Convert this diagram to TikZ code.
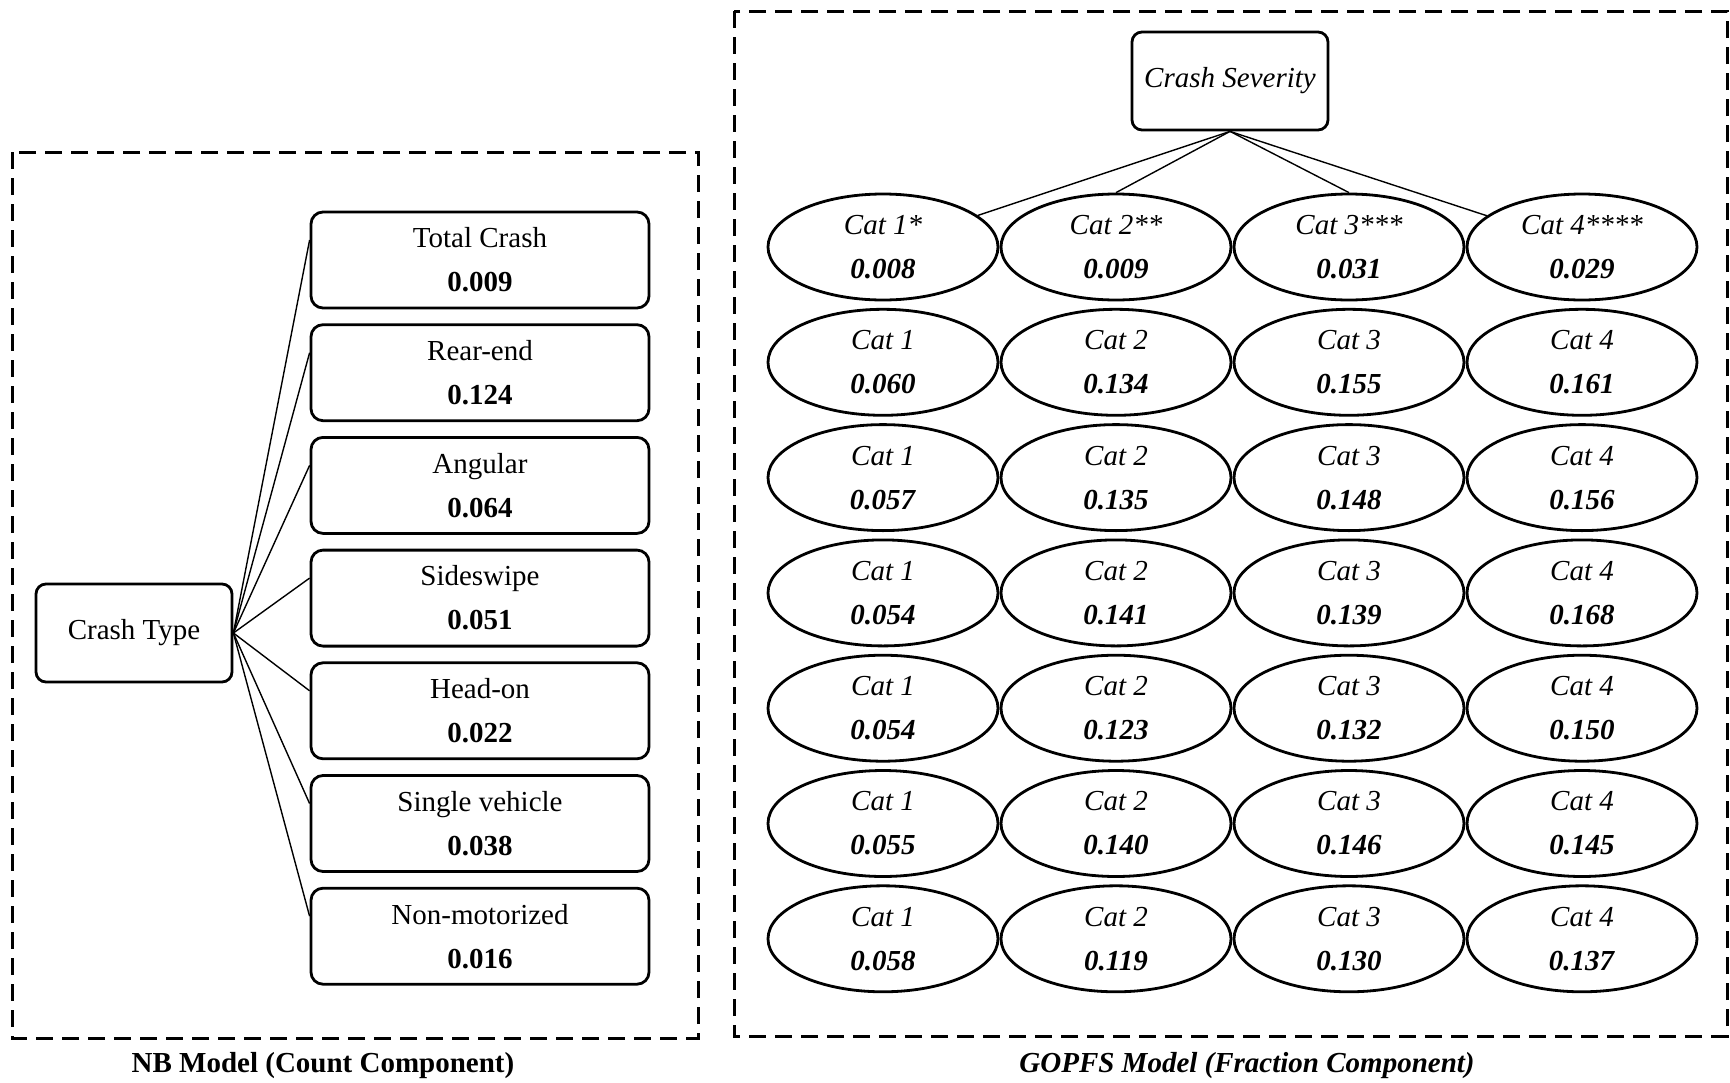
\documentclass[tikz,border=0pt]{standalone}
\usepackage{fontspec}
\setmainfont{Liberation Serif}
\usetikzlibrary{positioning,shapes,backgrounds}

\begin{document}
\begin{tikzpicture}[x=0.5pt, y=-0.5pt,
    every node/.style={font=\fontsize{14.5}{22}\selectfont},
    typebox/.style={draw, line width=1.4pt, rounded corners=6pt, minimum width=169pt, minimum height=48pt, align=center},
    rootbox/.style={draw, line width=1.4pt, rounded corners=5pt, minimum width=98pt, minimum height=49pt, align=center},
    catnode/.style={draw, ellipse, line width=1.4pt, minimum width=115pt, minimum height=53pt, inner sep=0pt, align=center},
    link/.style={line width=0.7pt},
    panel/.style={line width=1.5pt, dash pattern=on 8.5pt off 4.5pt}]
    \useasboundingbox (0,0) rectangle (1730,1082);

    % NB model (count component)
    \draw[panel] (12,152) rectangle (698,1038);
    \node[rootbox] (type) at (134,633) {Crash Type};
    \foreach \name/\val [count=\i] in {Total Crash/0.009, Rear-end/0.124, Angular/0.064, Sideswipe/0.051, Head-on/0.022, Single vehicle/0.038, Non-motorized/0.016} {
        \pgfmathsetmacro{\y}{260+(\i-1)*112.7}
        \node[typebox] (t\i) at (480,\y) {\name\\ \textbf{\val}};
        \draw[link] (type.east) -- ([yshift=10pt]t\i.west);
    }
    \node (nbcap) at (323,1066) {\textbf{NB Model (Count Component)}};

    % GOPFS model (fraction component)
    \draw[panel] (734,11) rectangle (1727,1036);
    \node[rootbox] (sev) at (1230,81) {\textit{Crash Severity}};

    % first row, with stars
    \foreach \val/\tag [count=\c] in {0.008/*, 0.009/**, 0.031/***, 0.029/****} {
        \pgfmathsetmacro{\x}{883+(\c-1)*233}
        \node[catnode] (c1\c) at (\x,247) {\textit{Cat \c\tag}\\ \textbf{\textit{\val}}};
    }

    % remaining rows
    \foreach \row [count=\r from 2] in {{0.060,0.134,0.155,0.161}, {0.057,0.135,0.148,0.156}, {0.054,0.141,0.139,0.168}, {0.054,0.123,0.132,0.150}, {0.055,0.140,0.146,0.145}, {0.058,0.119,0.130,0.137}} {
        \pgfmathsetmacro{\y}{247+(\r-1)*115.3}
        \foreach \val [count=\c] in \row {
            \pgfmathsetmacro{\x}{883+(\c-1)*233}
            \node[catnode] (c\r\c) at (\x,\y) {\textit{Cat \c}\\ \textbf{\textit{\val}}};
        }
    }

    \draw[link] (sev.south) -- (c11);
    \draw[link] (sev.south) -- (c12.north);
    \draw[link] (sev.south) -- (c13.north);
    \draw[link] (sev.south) -- (c14);
    \node (gocap) at (1247,1066) {\textbf{\textit{GOPFS Model (Fraction Component)}}};
\end{tikzpicture}
\end{document}
